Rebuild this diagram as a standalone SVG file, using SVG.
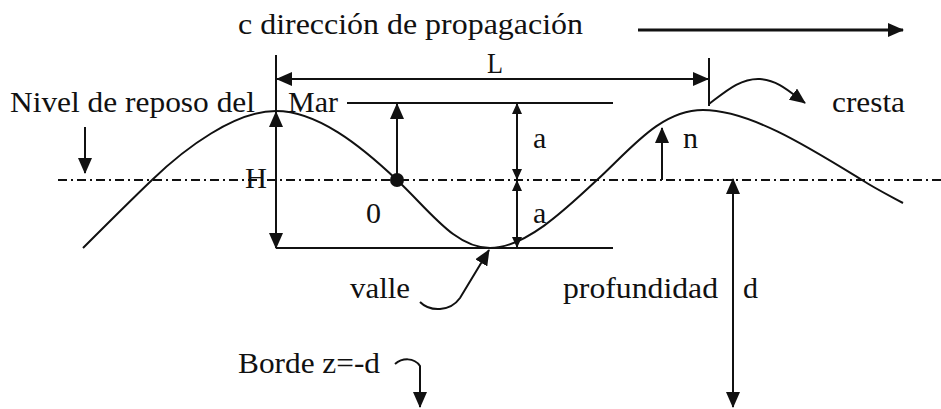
<svg xmlns="http://www.w3.org/2000/svg" width="941" height="409" viewBox="0 0 941 409">
<style>
text{font-family:"Liberation Serif","Times New Roman",serif;font-size:30px;fill:#111}
.ln{stroke:#111;stroke-width:2;fill:none}
.thick{stroke:#111;stroke-width:3;fill:none}
.dd{stroke:#111;stroke-width:2;fill:none;stroke-dasharray:9 4 2 4}
</style>
<defs>
<marker id="big" viewBox="0 0 16 14" refX="15" refY="7" markerWidth="16" markerHeight="14" markerUnits="userSpaceOnUse" orient="auto-start-reverse"><path d="M0,0 L16,7 L0,14 z" fill="#111"/></marker>
<marker id="small" viewBox="0 0 11 10" refX="10" refY="5" markerWidth="11" markerHeight="10" markerUnits="userSpaceOnUse" orient="auto-start-reverse"><path d="M0,0 L11,5 L0,10 z" fill="#111"/></marker>
</defs>
<rect width="941" height="409" fill="#fff"/>
<g id="sea-level">
<line class="dd" x1="58" y1="180" x2="941" y2="180"/>
</g>
<g id="wave">
<path class="ln" d="M83,248 C106,225 129,202 152,180 C185,148 235,111 276,111 C317,111 360,145 397,180 C430,211 455,248 490,248 C525,248 565,210 597,180 C630,150 660,110 703,110 C750,110 810,148 862,180 C876,189 890,196 903,203"/>
</g>
<g id="connectors">
<line class="thick" x1="638" y1="30" x2="903" y2="30" marker-end="url(#big)"/>
<line class="ln" x1="276" y1="55" x2="276" y2="248"/>
<line class="ln" x1="276" y1="112" x2="276" y2="248" marker-start="url(#big)" marker-end="url(#big)"/>
<line class="ln" x1="277" y1="79" x2="708" y2="79" marker-start="url(#big)" marker-end="url(#big)"/>
<line class="ln" x1="709" y1="58" x2="709" y2="106"/>
<path class="ln" d="M709,104 C725,92 740,78 760,79 C778,80 790,92 805,103" marker-end="url(#big)"/>
<line class="ln" x1="347" y1="103" x2="613" y2="103"/>
<line class="ln" x1="276" y1="248" x2="613" y2="248"/>
<line class="ln" x1="397" y1="180" x2="397" y2="104" marker-end="url(#big)"/>
<circle cx="397" cy="180" r="7" fill="#111"/>
<line class="ln" x1="517" y1="104" x2="517" y2="179" marker-start="url(#small)" marker-end="url(#small)"/>
<line class="ln" x1="517" y1="181" x2="517" y2="247" marker-start="url(#small)" marker-end="url(#small)"/>
<line class="ln" x1="662" y1="180" x2="662" y2="128" marker-end="url(#big)"/>
<line class="ln" x1="733" y1="179" x2="733" y2="407" marker-start="url(#big)" marker-end="url(#big)"/>
<line class="ln" x1="85" y1="127" x2="85" y2="173" marker-end="url(#big)"/>
<path class="ln" d="M420,302 C430,312 450,312 460,298 L489,250" marker-end="url(#big)"/>
<path class="ln" d="M395,364 C402,358 414,357 420,366 L420,407" marker-end="url(#big)"/>
</g>
<g id="labels">
<text id="t-title" x="238" y="34" textLength="345" lengthAdjust="spacingAndGlyphs">c dirección de propagación</text>
<text id="t-nivel" x="10" y="112" textLength="245" lengthAdjust="spacingAndGlyphs">Nivel de reposo del</text>
<text id="t-mar" x="288" y="112" textLength="50" lengthAdjust="spacingAndGlyphs">Mar</text>
<text id="t-L" x="487" y="73" textLength="16" lengthAdjust="spacingAndGlyphs">L</text>
<text id="t-cresta" x="832" y="112" textLength="73" lengthAdjust="spacingAndGlyphs">cresta</text>
<text id="t-a1" x="533" y="148">a</text>
<text id="t-n" x="683" y="148">n</text>
<text id="t-H" x="245" y="188" textLength="22" lengthAdjust="spacingAndGlyphs">H</text>
<text id="t-0" x="366" y="223">0</text>
<text id="t-a2" x="533" y="223">a</text>
<text id="t-valle" x="350" y="298" textLength="60" lengthAdjust="spacingAndGlyphs">valle</text>
<text id="t-prof" x="563" y="298" textLength="155" lengthAdjust="spacingAndGlyphs">profundidad</text>
<text id="t-d" x="743" y="298">d</text>
<text id="t-borde" x="238" y="373" textLength="142" lengthAdjust="spacingAndGlyphs">Borde z=-d</text>
</g>
</svg>
